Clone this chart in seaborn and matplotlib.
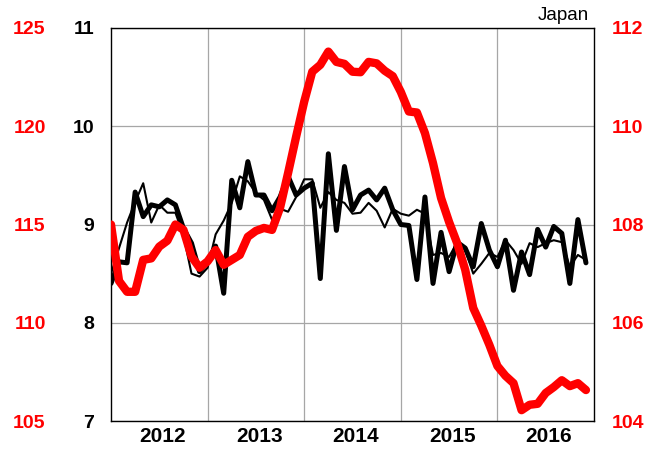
import numpy as np
import pandas as pd
import seaborn as sns
import matplotlib
matplotlib.use("Agg")
import matplotlib.pyplot as plt

# datos mensuales, ene 2012 - dic 2016
meses = np.arange(60)
anios = ["2012", "2013", "2014", "2015", "2016"]

serie_gruesa = [8.40, 8.62, 8.61, 9.33, 9.08, 9.20, 9.18, 9.25, 9.20, 8.96, 8.81, 8.52,
                8.62, 8.78, 8.30, 9.45, 9.17, 9.64, 9.30, 9.30, 9.14, 9.28, 9.49, 9.30,
                9.37, 9.42, 8.45, 9.72, 8.94, 9.59, 9.15, 9.30, 9.35, 9.25, 9.37, 9.15,
                9.00, 8.99, 8.44, 9.28, 8.40, 8.92, 8.52, 8.82, 8.76, 8.57, 9.01, 8.74,
                8.57, 8.84, 8.33, 8.72, 8.49, 8.95, 8.77, 8.98, 8.91, 8.40, 9.05, 8.61]

serie_fina = [8.50, 8.76, 9.02, 9.23, 9.42, 9.02, 9.20, 9.12, 9.12, 8.89, 8.50, 8.47,
              8.56, 8.90, 9.04, 9.22, 9.49, 9.44, 9.32, 9.25, 9.05, 9.16, 9.13, 9.28,
              9.46, 9.46, 9.17, 9.33, 9.25, 9.22, 9.11, 9.12, 9.22, 9.14, 8.97, 9.16,
              9.11, 9.09, 9.15, 9.11, 8.69, 8.71, 8.67, 8.82, 8.74, 8.50, 8.60, 8.71,
              8.67, 8.84, 8.74, 8.60, 8.81, 8.77, 8.81, 8.84, 8.82, 8.57, 8.69, 8.64]

serie_roja = [108.0, 106.85, 106.63, 106.63, 107.28, 107.31, 107.55, 107.67, 108.0, 107.89, 107.35, 107.12,
              107.25, 107.48, 107.18, 107.28, 107.38, 107.75, 107.87, 107.93, 107.89, 108.34, 109.05, 109.79,
              110.50, 111.11, 111.25, 111.52, 111.31, 111.27, 111.11, 111.10, 111.31, 111.28, 111.13, 111.02,
              110.70, 110.30, 110.28, 109.86, 109.25, 108.54, 108.05, 107.62, 107.08, 106.30, 105.94, 105.55,
              105.12, 104.92, 104.77, 104.22, 104.33, 104.35, 104.57, 104.69, 104.83, 104.71, 104.77, 104.63]

df = pd.DataFrame({"mes": meses, "gruesa": serie_gruesa, "fina": serie_fina, "roja": serie_roja})

sns.set_style("white")
plt.rcParams['font.family'] = ['Liberation Sans', 'DejaVu Sans']
plt.rcParams['text.color'] = 'black'

fig = plt.figure(figsize=(6.58, 4.49), dpi=100)
ax = fig.add_axes([111/658, 1-421/449, 483/658, 393/449])

#lineas negras (eje izquierdo interior)
sns.lineplot(data=df, x="mes", y="gruesa", ax=ax, color="black", linewidth=3.6)
sns.lineplot(data=df, x="mes", y="fina", ax=ax, color="black", linewidth=1.5)
ax.set_xlim(0, 60)
ax.set_ylim(7, 11)
ax.set_yticks([7, 8, 9, 10, 11])
ax.set_xticks([12, 24, 36, 48])
ax.set_xticklabels([])
ax.set_xticks([6.4 + 12*i for i in range(5)], minor=True)
ax.set_xticklabels(anios, minor=True, fontsize=15, fontweight="bold")
ax.grid(True, which="major", color="#a6a6a6", linewidth=0.9)
ax.tick_params(which="both", length=0, colors="black")
ax.tick_params(axis="x", which="minor", pad=4)
ax.tick_params(axis="y", pad=12, labelsize=14)
for t in ax.get_yticklabels():
    t.set_fontweight("bold")
ax.set_xlabel("")
ax.set_ylabel("")
for s in ax.spines.values():
    s.set_color("black")
    s.set_linewidth(1.0)

#linea roja (eje derecho)
ax2 = ax.twinx()
sns.lineplot(data=df, x="mes", y="roja", ax=ax2, color="#ff0000", linewidth=6)
ax2.set_ylim(104, 112)
ax2.set_yticks([104, 106, 108, 110, 112])
ax2.tick_params(axis="y", length=0, pad=12.5, labelsize=14, colors="#ff0000")
for t in ax2.get_yticklabels():
    t.set_fontweight("bold")
ax2.set_ylabel("")
ax2.grid(False)
for s in ax2.spines.values():
    s.set_visible(False)

#eje rojo exterior izquierdo
ax3 = ax.twinx()
ax3.set_ylim(105, 125)
ax3.set_yticks([105, 110, 115, 120, 125])
ax3.yaxis.tick_left()
ax3.tick_params(axis="y", length=0, pad=47, labelsize=14, colors="#ff0000")
for t in ax3.get_yticklabels():
    t.set_fontweight("bold")
ax3.grid(False)
for s in ax3.spines.values():
    s.set_visible(False)

fig.text(589/658, 1-20/449, "Japan", ha="right", va="baseline", fontsize=13.5, color="black")

fig.savefig("out.png", dpi=100)
plt.close(fig)
